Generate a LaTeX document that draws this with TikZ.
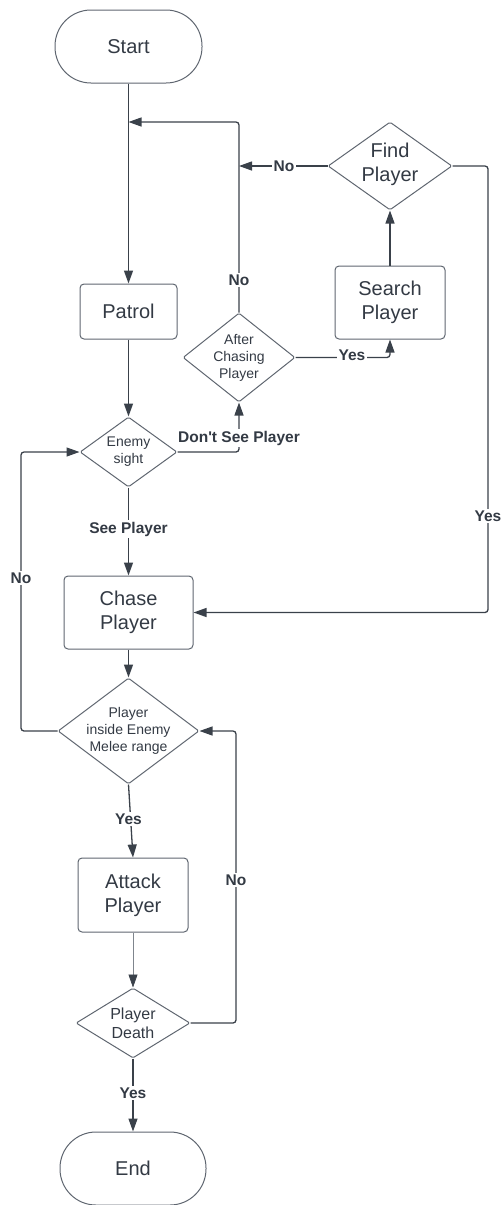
\documentclass[tikz,border=0pt]{standalone}
\usepackage{fontspec}
\setmainfont{Liberation Sans}
\usetikzlibrary{arrows.meta,shapes.geometric}
\definecolor{edgec}{HTML}{3A414A}
\definecolor{boxc}{HTML}{5F6670}
\definecolor{txtc}{HTML}{333A44}
\begin{document}
\begin{tikzpicture}[x=1pt,y=-1pt,
  term/.style={draw=boxc, line width=1pt, rounded corners=36pt, minimum width=147pt,
    minimum height=73pt, inner sep=0pt, text=txtc, font=\fontsize{20}{24}\selectfont},
  proc/.style={draw=boxc, line width=1pt, rounded corners=4pt, inner sep=0pt, align=center,
    text=txtc, font=\fontsize{20}{24}\selectfont},
  dia/.style={diamond, draw=boxc, line width=1pt, inner sep=0pt, rounded corners=1.5pt},
  dtext/.style={align=center, inner sep=0pt, text=txtc, font=\fontsize{14}{17}\selectfont},
  conn/.style={draw=edgec, line width=1.3pt, rounded corners=3pt,
    -{Triangle[length=13pt,width=9pt,color=edgec]}},
  lbl/.style={fill=white, inner sep=1.5pt, text=txtc, font=\bfseries\fontsize{15.5}{18}\selectfont}]
\useasboundingbox (0,0) rectangle (503,1205);

% terminals and process boxes
\node[term] (start) at (128.5,46.5) {Start};
\node[proc, minimum width=97pt, minimum height=55pt] (patrol) at (128.5,311.5) {Patrol};
\node[proc, minimum width=110pt, minimum height=73pt] (search) at (390,302.5) {Search\\Player};
\node[proc, minimum width=129pt, minimum height=73pt] (chase) at (128.5,612.5) {Chase\\Player};
\node[proc, minimum width=110pt, minimum height=74pt] (attack) at (133,895) {Attack\\Player};
\node[term, minimum width=146pt] (end) at (133,1168.5) {End};

% decisions
\node[dia, minimum width=124pt, minimum height=88pt] (find) at (390,166) {};
\node[dtext, font=\fontsize{20}{24}\selectfont] (findtxt) at (390,164) {Find\\Player};
\node[dia, minimum width=112pt, minimum height=89pt] (after) at (239,357.5) {};
\node[dtext] (aftertxt) at (after) {After\\Chasing\\Player};
\node[dia, minimum width=97pt, minimum height=70pt] (enemy) at (128.5,452) {};
\node[dtext] (enemytxt) at (enemy) {Enemy\\sight};
\node[dia, minimum width=141pt, minimum height=106pt] (melee) at (128.5,731) {};
\node[dtext] (meleetxt) at (melee) {Player\\inside Enemy\\Melee range};
\node[dia, minimum width=114pt, minimum height=70pt] (death) at (133,1023) {};
\node[dtext, font=\fontsize{16}{19}\selectfont] (deathtxt) at (death) {Player\\Death};

% bend and join points
\coordinate (backjoin) at (128.5,122);
\coordinate (nojoin) at (239,166);
\coordinate (yesturn) at (488,612.5);
\coordinate (noturn) at (21,452);
\coordinate (deathturn) at (236,731);

% connectors
\draw[conn] (start.south) -- (patrol.north);
\draw[conn] (patrol.south) -- (enemy.north);
\draw[conn] (after.north) |- (backjoin);
\draw[conn] (find.west) -- (nojoin);
\draw[conn] (search.north) -- (find.south);
\draw[conn] (after.east) -| (search.south);
\draw[conn] (enemy.east) -| (after.south);
\draw[conn] (enemy.south) -- (chase.north);
\draw[conn] (find.east) -| (yesturn) -- (chase.east);
\draw[conn] (chase.south) -- (melee.north);
\draw[conn] (melee.west) -| (noturn) -- (enemy.west);
\draw[conn] (melee.south) -- (attack.north);
\draw[conn, draw=boxc!80, line width=0.7pt] (attack.south) -- (death.north);
\draw[conn] (death.east) -| (deathturn) -- (melee.east);
\draw[conn] (death.south) -- (end.north);

% connector labels
\node[lbl] (lno1) at (239,280) {No};
\node[lbl] (lno2) at (284,166) {No};
\node[lbl] (ldont) at (239,438) {Don\textquotesingle t See Player};
\node[lbl] (lyes1) at (352,355) {Yes};
\node[lbl] (lyes2) at (488,516) {Yes};
\node[lbl] (lsee) at (128.5,529) {See Player};
\node[lbl] (lno3) at (21,578) {No};
\node[lbl] (lyes3) at (128.5,819) {Yes};
\node[lbl] (lno4) at (236,880) {No};
\node[lbl] (lyes4) at (133,1093) {Yes};
\end{tikzpicture}
\end{document}
